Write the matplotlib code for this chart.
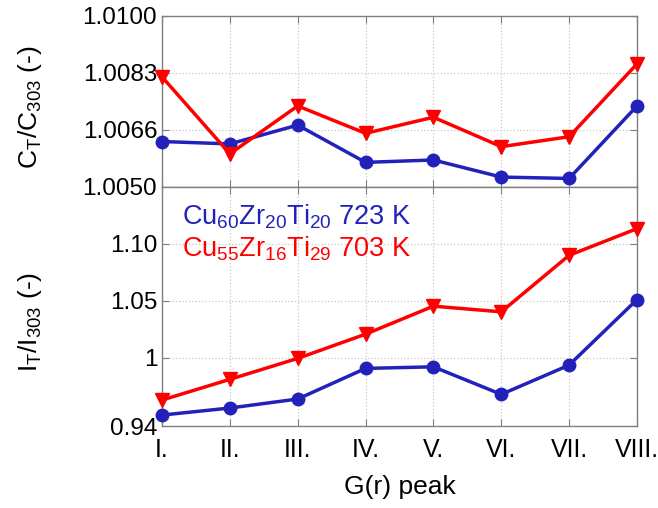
import matplotlib
matplotlib.use("Agg")
import matplotlib.pyplot as plt
import numpy as np

plt.rcParams["font.family"] = ["Liberation Sans", "DejaVu Sans"]
plt.rcParams["mathtext.fontset"] = "custom"
plt.rcParams["mathtext.rm"] = "Liberation Sans"
plt.rcParams["mathtext.it"] = "Liberation Sans"
plt.rcParams["mathtext.default"] = "regular"

# G(r) peaks
peaks = ["I.", "II.", "III.", "IV.", "V.", "VI.", "VII.", "VIII."]

# C_T / C_303
c_blue = [1.00633, 1.00626, 1.00681, 1.00572, 1.00579, 1.00529, 1.00525, 1.00737]
c_red = [1.00822, 1.00597, 1.00737, 1.00657, 1.00704, 1.00618, 1.00647, 1.00860]

# I_T / I_303
i_blue = [0.9496, 0.9558, 0.9637, 0.9906, 0.9920, 0.9678, 0.9935, 1.0511]
i_red = [0.9628, 0.9810, 0.9994, 1.0207, 1.0453, 1.0403, 1.0900, 1.1134]

top_ticks = [1.005, 1.005 + 0.005 / 3, 1.005 + 0.010 / 3, 1.010]
top_labels = ["1.0050", "1.0066", "1.0083", "1.0100"]
bot_ticks = [0.94, 1.0, 1.05, 1.10]
bot_labels = ["0.94", "1", "1.05", "1.10"]

blue = "#2222bb"
red = "#ff0000"
fs_tick = 17.5
fs_lab = 19

fig = plt.figure(figsize=(6.58, 5.08), dpi=100)
ax1 = fig.add_axes([162 / 658, 1 - 187 / 508, 475 / 658, 171 / 508])
ax2 = fig.add_axes([162 / 658, 1 - 426 / 508, 475 / 658, 239 / 508])

x = np.arange(len(peaks))

for ax, yb, yr in [(ax1, c_blue, c_red), (ax2, i_blue, i_red)]:
    ax.plot(x, yb, color=blue, lw=2.5, marker="o", ms=9, clip_on=False, zorder=3)
    ax.plot(x, yr, color=red, lw=2.5, marker="v", ms=10, clip_on=False, zorder=3)
    ax.set_xlim(0, len(peaks) - 1)
    ax.set_xticks(x)
    ax.grid(True, color="#c8c8c8", ls=":", lw=0.9)
    ax.tick_params(direction="in", top=True, right=True, length=5,
                   color="#808080", labelsize=fs_tick)
    for s in ax.spines.values():
        s.set_color("#808080")
        s.set_linewidth(1.0)

ax1.set_ylim(1.005, 1.010)
ax1.set_yticks(top_ticks)
ax1.set_yticklabels(top_labels, fontsize=fs_tick)
ax1.tick_params(labelbottom=False)
ax1.set_ylabel("C$_T$/C$_{303}$ (-)", fontsize=fs_lab)
ax1.yaxis.set_label_coords(-0.248, 0.465)

ax2.set_ylim(0.94, 1.15)
ax2.set_yticks(bot_ticks)
ax2.set_yticklabels(bot_labels, fontsize=fs_tick)
ax2.set_xticklabels(peaks, fontsize=18)
ax2.tick_params(axis="x", pad=8.5)
ax2.set_ylabel("I$_T$/I$_{303}$ (-)", fontsize=fs_lab)
ax2.yaxis.set_label_coords(-0.248, 0.435)
ax2.set_xlabel("G(r) peak", fontsize=fs_lab)
ax2.xaxis.set_label_coords(0.5, -0.205)

ax2.text(0.042, 0.845, "Cu$_{60}$Zr$_{20}$Ti$_{20}$ 723 K", color=blue,
         fontsize=fs_lab + 0.5, transform=ax2.transAxes, va="baseline")
ax2.text(0.042, 0.708, "Cu$_{55}$Zr$_{16}$Ti$_{29}$ 703 K", color=red,
         fontsize=fs_lab + 0.5, transform=ax2.transAxes, va="baseline")

fig.savefig("out.png", dpi=100)
plt.close(fig)
